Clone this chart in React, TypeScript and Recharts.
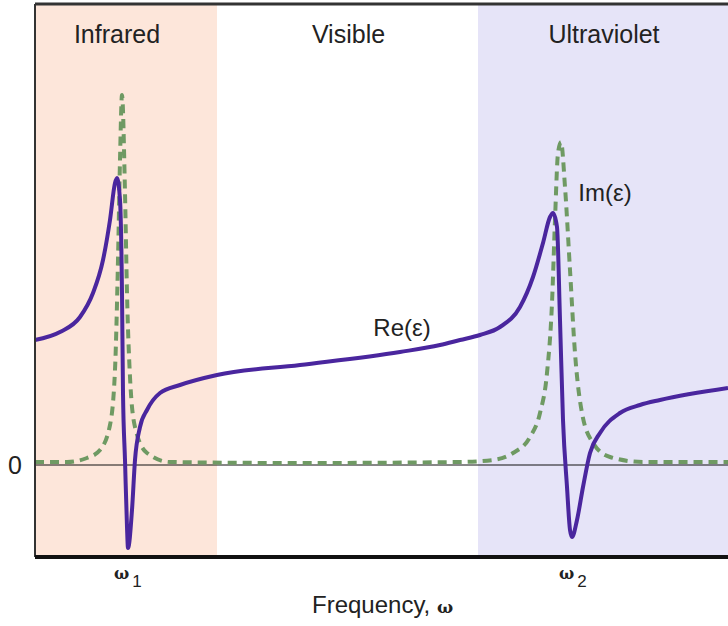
import {
  ComposedChart,
  Line,
  XAxis,
  YAxis,
  ReferenceArea,
  ReferenceLine,
  ReferenceDot,
} from 'recharts'

// frequency (arbitrary units) and permittivity (arbitrary units)
const reFreq = [0, 25, 45, 58, 68, 75, 80, 82, 85, 87, 88, 90, 92, 93, 97, 100, 105, 112, 125, 145, 182, 265, 365, 405, 425, 445, 465, 485, 498, 508, 515, 518, 522, 525, 528, 532, 535, 537, 542, 548, 555, 565, 585, 605, 625, 693]
const reVals = [1.25, 1.33, 1.48, 1.72, 2.05, 2.45, 2.82, 2.87, 2.65, 1.72, 0.72, 0.05, -0.62, -0.83, -0.45, 0.05, 0.38, 0.55, 0.72, 0.8, 0.9, 1.0, 1.13, 1.2, 1.25, 1.3, 1.38, 1.58, 1.88, 2.22, 2.48, 2.52, 2.38, 1.45, 0.45, -0.22, -0.65, -0.72, -0.55, -0.22, 0.12, 0.32, 0.52, 0.6, 0.65, 0.77]

const imFreq = [0, 32, 52, 65, 75, 80, 83, 85, 87, 90, 92, 95, 100, 112, 135, 265, 425, 458, 478, 495, 505, 512, 517, 520, 523, 526, 530, 535, 540, 547, 558, 575, 608, 693]
const imVals = [0.03, 0.03, 0.07, 0.15, 0.4, 0.95, 2.05, 3.05, 3.7, 2.72, 1.72, 0.88, 0.38, 0.12, 0.03, 0.02, 0.03, 0.05, 0.12, 0.28, 0.52, 0.92, 1.62, 2.45, 3.12, 3.23, 2.78, 1.95, 1.12, 0.52, 0.22, 0.08, 0.03, 0.03]

const bandNames = ['Infrared', 'Visible', 'Ultraviolet']
const bandEdges = [0, 182, 443, 693]
const bandFills = ['#fde6da', '#ffffff', '#e6e4f8']

const resonances = [90, 535]
const resonanceNames = ['1', '2']

const reData = reFreq.map((f, i) => ({ f, re: reVals[i] }))
const imData = imFreq.map((f, i) => ({ f, im: imVals[i] }))

const FONT = '"Liberation Sans", Arial, sans-serif'
const Y_MIN = -0.92
const Y_MAX = 4.61
// small nudges so the band titles sit where the original has them
const titleShift: Record<string, number> = { Infrared: -9, Visible: 1, Ultraviolet: 1 }

const OmegaTick = ({ x, y, payload }: any) => {
  const idx = resonances.indexOf(payload.value)
  return (
    <text x={x - 11} y={y + 14} textAnchor="start" fontFamily={FONT} fill="#222">
      <tspan fontSize={16} fontWeight="bold" fontFamily="'DejaVu Serif', serif">ω</tspan>
      <tspan fontSize={17} dx={3} dy={8}>{resonanceNames[idx]}</tspan>
    </text>
  )
}

const ZeroTick = ({ y, payload }: any) => (
  <text x={15} y={y + 9} textAnchor="middle" fontFamily={FONT} fontSize={25} fill="#222">
    {payload.value}
  </text>
)

const FreqLabel = () => (
  <text x={312} y={613} textAnchor="start" fontFamily={FONT} fontSize={24} fill="#222">
    Frequency,{' '}
    <tspan fontSize={17} fontWeight="bold" fontFamily="'DejaVu Serif', serif">ω</tspan>
  </text>
)

const BandTitle = ({ viewBox, value }: any) => (
  <text
    x={viewBox.x + viewBox.width / 2 + (titleShift[value] ?? 0)}
    y={viewBox.y + 39}
    textAnchor="middle"
    fontFamily={FONT}
    fontSize={25}
    fill="#222"
  >
    {value}
  </text>
)

export default function App() {
  return (
    <div style={{ position: 'absolute', left: 0, top: 0, background: '#fff' }}>
      <ComposedChart width={728} height={626} margin={{ top: 4, right: 0, bottom: 0, left: 0 }}>
        <XAxis
          type="number"
          dataKey="f"
          domain={[0, 693]}
          ticks={resonances}
          tick={<OmegaTick />}
          tickLine={false}
          axisLine={false}
          height={69}
          label={<FreqLabel />}
        />
        <YAxis
          type="number"
          domain={[Y_MIN, Y_MAX]}
          ticks={[0]}
          tick={<ZeroTick />}
          tickLine={false}
          axisLine={false}
          width={35}
          allowDataOverflow
        />
        {bandNames.map((name, i) => (
          <ReferenceArea
            key={name}
            x1={bandEdges[i]}
            x2={bandEdges[i + 1]}
            y1={Y_MIN}
            y2={Y_MAX}
            fill={bandFills[i]}
            fillOpacity={1}
            stroke="none"
            label={<BandTitle value={name} />}
          />
        ))}
        <ReferenceLine y={0} stroke="#111" strokeWidth={1} />
        <Line
          data={imData}
          dataKey="im"
          type="monotone"
          stroke="#6f9a63"
          strokeWidth={4}
          strokeDasharray="9 6"
          dot={false}
          isAnimationActive={false}
        />
        <Line
          data={reData}
          dataKey="re"
          type="monotone"
          stroke="#4a269e"
          strokeWidth={4}
          dot={false}
          isAnimationActive={false}
        />
        <ReferenceLine y={Y_MAX} stroke="#333" strokeWidth={3} />
        <ReferenceLine x={0} stroke="#333" strokeWidth={2} />
        <ReferenceLine y={Y_MIN} stroke="#111" strokeWidth={4} />
        <ReferenceDot
          x={367}
          y={1.38}
          r={0}
          fill="none"
          stroke="none"
          label={{ value: 'Re(ε)', position: 'center', fontSize: 24, fill: '#222', fontFamily: FONT }}
        />
        <ReferenceDot
          x={570}
          y={2.73}
          r={0}
          fill="none"
          stroke="none"
          label={{ value: 'Im(ε)', position: 'center', fontSize: 24, fill: '#222', fontFamily: FONT }}
        />
      </ComposedChart>
    </div>
  )
}
